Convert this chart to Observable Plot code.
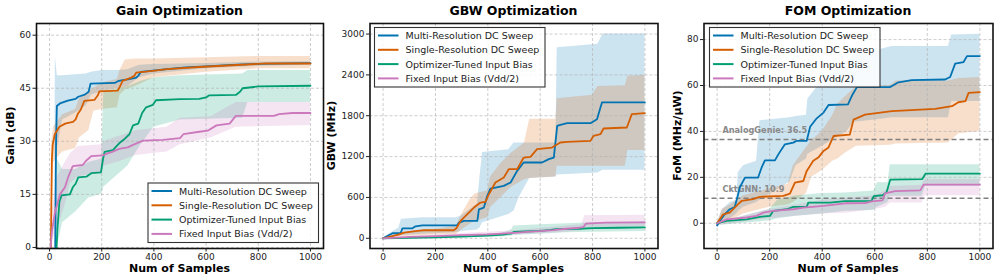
<!DOCTYPE html>
<html><head><meta charset="utf-8">
<script src="https://cdn.jsdelivr.net/npm/d3@7"></script>
<script src="https://cdn.jsdelivr.net/npm/@observablehq/plot@0.6"></script>
<style>
body{margin:0;background:#fff;}
#wrap{position:relative;width:997px;height:280px;font-family:"DejaVu Sans",sans-serif;overflow:hidden;}
#wrap svg{position:absolute;top:0;}
</style></head><body><div id="wrap"></div>
<script>
// ---------- shared categories / labels ----------
const seriesNames = ["Multi-Resolution DC Sweep","Single-Resolution DC Sweep","Optimizer-Tuned Input Bias","Fixed Input Bias (Vdd/2)"];
const seriesColors = ["#0173B2","#D55E00","#029E73","#CC78BC"];
const panelTitles = ["Gain Optimization","GBW Optimization","FOM Optimization"];
const yLabels = ["Gain (dB)","GBW (MHz)","FoM (MHz/\u03bcW)"];
const xLabel = "Num of Samples";
const xTicks = [0,200,400,600,800,1000];
const gainTicks = [0,15,30,45,60];
const gbwTicks = [0,600,1200,1800,2400,3000];
const fomTicks = [0,20,40,60,80];
const baselineNames = ["AnalogGenie","CktGNN"];
const baselineValues = [36.5,10.9];

// ---------- Gain panel: lines [x, y] ----------
const gainMulti = [[22,0],[25,30],[28,40],[40,40.7],[70,41.5],[100,42],[110,42.6],[135,43.2],[150,44],[157,46.3],[250,46.5],[262,47],[280,47.3],[300,47.5],[330,47.9],[340,48.5],[350,49.6],[396,50],[450,50.4],[523,50.9],[600,51.2],[700,51.6],[800,51.9],[1000,52.1]];
const gainSingle = [[5,0],[9,25],[12,29],[20,32],[38,34.1],[60,35],[76,35.3],[90,35.5],[100,36.2],[108,37.7],[120,39],[133,41.4],[172,41.7],[185,43],[191,44.1],[261,44.3],[270,45.5],[280,47.1],[313,48],[325,48.5],[332,49.4],[396,49.9],[450,50.4],[574,51],[700,51.5],[829,52],[1000,52]];
const gainOpt = [[27,0],[30,5],[38,13],[46,14.7],[78,15],[89,17],[100,18],[110,19.8],[141,20],[160,21],[197,21.2],[205,25],[211,27],[243,27.5],[255,28.5],[268,29.5],[285,30.5],[306,32],[320,34.5],[340,35],[355,38],[370,39.6],[396,40.3],[408,41.6],[500,41.9],[574,42],[600,42.4],[612,43],[714,43.1],[730,44],[740,45],[800,45.5],[1000,45.7]];
const gainFixed = [[4,0],[10,5],[21,10],[40,15],[59,17],[72,20],[89,23],[127,23.3],[140,24.5],[160,25.8],[204,26],[220,26.5],[240,27],[265,27.8],[276,28],[300,28.3],[320,29],[358,30.2],[434,30.4],[500,30.9],[513,32],[574,32.7],[606,33],[640,34.5],[690,35],[714,37.2],[860,37.2],[880,37.7],[930,38],[1000,38]];
// ---------- Gain panel: bands [x, lower, upper] ----------
const gainMultiBand = [[20,0,0],[22,0,54],[25,20,52],[30,28,48.5],[50,36,48.5],[100,38,48.8],[140,40,49],[160,43,49.5],[200,44,50],[260,45,50],[300,45.5,50.2],[345,48,51.5],[400,49,51.7],[600,50.5,52],[800,51.2,52.4],[1000,51.5,52.5]];
const gainSingleBand = [[5,0,0],[9,18,30],[15,24,34],[50,27,37.5],[100,28,39],[115,31,42],[150,33,44],[170,38.5,45],[200,39,46.5],[260,39.5,47.5],[270,43,50],[290,44.5,53],[330,45.5,53.3],[400,48,53.3],[600,49.5,53.6],[800,50.5,54],[1000,50.5,54]];
const gainOptBand = [[27,0,0],[30,0,25],[50,7,22],[100,10,22],[150,14,24],[200,15,25],[208,17,44],[300,23,45.5],[350,29,47],[400,34,48],[500,36,48.5],[740,36.5,49],[760,41,50],[1000,41,50]];
const gainFixedBand = [[4,0,0],[10,2,10],[30,5,20],[60,12,24],[80,18,26.5],[110,20,28.5],[200,21,29],[210,23,30],[270,24.3,31.5],[330,26,33],[450,27,34],[500,29,36.5],[620,31,37],[715,34,41],[1000,34.5,41]];

// ---------- GBW panel: lines ----------
const gbwMulti = [[0,0],[29,59],[36,74],[67,74],[74,147],[112,147],[124,176],[150,191],[283,191],[290,230],[309,255],[360,255],[366,426],[385,451],[398,623],[410,730],[429,745],[461,770],[487,819],[512,990],[537,1113],[607,1113],[633,1162],[652,1186],[665,1652],[677,1667],[703,1691],[792,1691],[817,1750],[836,1995],[1000,1995]];
const gbwSingle = [[0,0],[55,49],[80,83],[131,108],[156,118],[270,118],[280,147],[296,255],[321,353],[347,451],[372,525],[391,534],[404,647],[429,819],[461,892],[480,1015],[512,1015],[537,1186],[563,1196],[588,1309],[645,1333],[677,1407],[703,1417],[792,1431],[804,1505],[830,1529],[842,1613],[931,1627],[950,1824],[1000,1838]];
const gbwOpt = [[0,0],[100,5],[200,15],[300,25],[400,40],[460,55],[490,70],[500,95],[540,100],[600,110],[640,125],[660,135],[750,140],[800,148],[900,155],[1000,160]];
const gbwFixed = [[0,0],[100,20],[200,32],[300,45],[400,58],[500,80],[550,95],[600,105],[650,120],[700,140],[750,155],[765,165],[775,215],[850,230],[1000,235]];
// ---------- GBW panel: bands ----------
const gbwMultiBand = [[0,0,0],[30,10,80],[60,30,150],[70,40,280],[150,60,300],[280,80,300],[300,100,330],[360,120,500],[370,150,900],[380,230,1260],[480,350,1300],[500,400,1400],[520,600,1400],[560,880,1400],[660,900,1400],[665,930,2800],[820,960,2850],[840,1000,3000],[1000,1000,3000]];
const gbwSingleBand = [[0,0,0],[100,30,100],[200,50,130],[280,60,180],[300,120,350],[330,200,550],[350,250,650],[400,300,700],[410,450,900],[450,600,1100],[490,750,1250],[540,860,1400],[560,880,1750],[660,900,1750],[665,1060,2050],[800,1060,2100],[820,1060,2230],[925,1060,2240],[935,1290,2380],[1000,1290,2390]];
const gbwOptBand = [[0,0,0],[300,10,40],[450,20,70],[490,30,120],[500,40,180],[600,60,200],[700,80,215],[800,90,230],[1000,100,240]];
const gbwFixedBand = [[0,0,0],[300,25,70],[500,50,110],[700,90,180],[760,110,200],[770,150,330],[1000,170,340]];

// ---------- FOM panel: lines ----------
const fomMulti = [[0,-1],[10,1],[29,3.9],[48,6.1],[67,7.1],[80,12.6],[87,15.8],[106,19.9],[156,19.9],[169,24.2],[182,27.4],[220,27.4],[233,30],[258,34.4],[290,35.1],[303,35.9],[341,35.9],[354,42],[379,45.7],[405,48.2],[424,51.5],[498,51.8],[515,56],[532,59.3],[659,59.3],[690,61.4],[741,62.3],[868,62.6],[887,63.7],[906,69.5],[938,70.2],[951,72.8],[1000,72.8]];
const fomSingle = [[0,0],[23,3.9],[48,4.6],[61,6.1],[80,8.3],[93,9.7],[137,10.5],[163,11.5],[252,11.9],[277,12.9],[296,17.7],[328,18.4],[341,22.8],[366,27.2],[385,28.6],[405,31.5],[424,33],[443,38],[505,38.6],[519,45.1],[563,47.3],[665,48.8],[830,49.8],[894,51],[918,52.7],[945,53.2],[957,56.8],[1000,57.1]];
const fomOpt = [[0,0],[36,1],[112,1.7],[163,2.8],[201,3.2],[214,5.4],[265,6.1],[290,7.1],[341,7.1],[347,9],[430,9],[487,9.6],[588,9.7],[596,11.8],[630,12.2],[645,13.5],[659,19],[780,19.2],[793,21.6],[1000,21.6]];
const fomFixed = [[0,0],[36,1.7],[112,2.5],[150,3.2],[176,4.6],[214,5.4],[290,6.1],[328,6.8],[405,7.6],[487,8.7],[563,8.8],[589,9.5],[630,10],[639,13],[678,14],[773,14.3],[786,16.8],[1000,16.8]];
// ---------- FOM panel: bands ----------
const fomMultiBand = [[0,-1,0],[20,0,6],[50,2,9],[75,4,10],[80,5,22],[100,7,25],[150,9,27],[163,10,44.6],[277,18,46],[300,25,46.5],[340,28,47],[345,30,54],[392,33,61],[494,40,70],[520,44,74],[600,45,75],[665,46,77],[880,46,77],[893,53,82],[1000,53,82.3]];
const fomSingleBand = [[0,-1,0],[20,0,6],[50,1,8],[100,4,12],[200,7,15],[270,8,17],[290,9,25],[340,13,33],[360,20,36],[400,23,40],[440,27,47],[460,28,52],[487,30.5,55],[530,33.5,59.5],[660,34,60],[680,34.5,62],[880,35,62],[920,39,63],[1000,40,63.5]];
const fomOptBand = [[0,-1,0],[100,0,3],[200,1,6],[230,2,10],[300,3,12],[400,4,13],[487,5.2,13.2],[596,5.5,14],[610,7,17.6],[650,9,17.6],[659,11.8,25.5],[780,11.8,25.5],[793,16.1,25.5],[1000,16.1,25.5]];
const fomFixedBand = [[0,-1,0],[200,2,6],[300,3,8],[400,4,10],[500,4.5,11],[600,6,12],[640,7,14],[660,8.8,16],[780,8.8,16.5],[790,12,19],[1000,12,19]];

// ---------- panel configs (built from the arrays above) ----------
const panels = [
  {lines:[gainMulti,gainSingle,gainOpt,gainFixed], bands:[gainMultiBand,gainSingleBand,gainOptBand,gainFixedBand],
   yDomain:[-0.3,63.3], yTicks:gainTicks, left:0, width:330, mL:36, mR:7, legend:{x:148,y:183}, yLabelX:10},
  {lines:[gbwMulti,gbwSingle,gbwOpt,gbwFixed], bands:[gbwMultiBand,gbwSingleBand,gbwOptBand,gbwFixedBand],
   yDomain:[-150,3155], yTicks:gbwTicks, left:330, width:330, mL:39.5, mR:2.5, legend:{x:374.5,y:27.5}, yLabelX:331},
  {lines:[fomMulti,fomSingle,fomOpt,fomFixed], bands:[fomMultiBand,fomSingleBand,fomOptBand,fomFixedBand],
   yDomain:[-11,87], yTicks:fomTicks, left:660, width:337, mL:43.5, mR:4.5, legend:{x:709.5,y:27.5}, yLabelX:677.5, baselines:true}
];
const MT = 23, MB = 32, H = 280;
const wrap = document.getElementById("wrap");

panels.forEach((p) => {
  const marks = [];
  p.bands.forEach((b, i) => marks.push(Plot.areaY(b, {x: d => d[0], y1: d => d[1], y2: d => d[2], fill: seriesColors[i], fillOpacity: 0.2, clip: true})));
  marks.push(Plot.gridX(xTicks, {stroke: "#b0b0b0", strokeOpacity: 0.8, strokeWidth: 0.8, strokeDasharray: "3,2"}));
  marks.push(Plot.gridY(p.yTicks, {stroke: "#b0b0b0", strokeOpacity: 0.8, strokeWidth: 0.8, strokeDasharray: "3,2"}));
  if (p.baselines) {
    marks.push(Plot.ruleY(baselineValues, {stroke: "#808080", strokeWidth: 1.5, strokeDasharray: "5,3"}));
    marks.push(Plot.text(baselineValues.map((v, i) => ({v, t: baselineNames[i] + ": " + v})),
      {x: 20, y: "v", text: "t", dy: -9, textAnchor: "start", fill: "#8a8a8a", fontWeight: "bold", fontSize: 8.2}));
  }
  p.lines.forEach((l, i) => marks.push(Plot.line(l, {x: d => d[0], y: d => d[1], stroke: seriesColors[i], strokeWidth: 1.8, clip: true})));
  marks.push(Plot.frame({stroke: "#111", strokeWidth: 1.6}));
  const svg = Plot.plot({
    width: p.width, height: H,
    marginLeft: p.mL, marginRight: p.mR, marginTop: MT, marginBottom: MB,
    style: {fontFamily: "DejaVu Sans, sans-serif", fontSize: "9px", color: "#222", background: "transparent", overflow: "visible"},
    x: {domain: [-50, 1050], ticks: xTicks, tickSize: 3.5, tickPadding: 2, tickFormat: d3.format("d"), label: null},
    y: {domain: p.yDomain, ticks: p.yTicks, tickSize: 3.5, tickPadding: 2, tickFormat: d3.format("d"), label: null},
    marks
  });
  svg.style.left = p.left + "px";
  wrap.appendChild(svg);
});

// ---------- overlay: titles, axis labels, legends ----------
const ov = d3.select(wrap).append("svg").attr("width", 997).attr("height", H)
  .style("left", "0px").style("font-family", "DejaVu Sans, sans-serif");
panels.forEach((p, k) => {
  const fl = p.left + p.mL, fr = p.left + p.width - p.mR, cx = (fl + fr) / 2, cy = (MT + (H - MB)) / 2;
  ov.append("text").attr("x", cx).attr("y", 10).attr("text-anchor", "middle").attr("dominant-baseline", "central")
    .attr("font-weight", "bold").attr("font-size", 12.5).attr("fill", "#000").text(panelTitles[k]);
  ov.append("text").attr("x", cx).attr("y", 268).attr("text-anchor", "middle").attr("dominant-baseline", "central")
    .attr("font-weight", "bold").attr("font-size", 11).attr("fill", "#000").text(xLabel);
  ov.append("text").attr("transform", `translate(${p.yLabelX},${cy}) rotate(-90)`).attr("text-anchor", "middle")
    .attr("dominant-baseline", "central").attr("font-weight", "bold").attr("font-size", 11).attr("fill", "#000").text(yLabels[k]);
  const g = ov.append("g").attr("transform", `translate(${p.legend.x},${p.legend.y})`);
  g.append("rect").attr("width", 170.5).attr("height", 59.5).attr("fill", "#fff").attr("fill-opacity", 0.85)
    .attr("stroke", "#333").attr("stroke-width", 1.1);
  seriesNames.forEach((n, i) => {
    const y = 8 + i * 14.3;
    g.append("line").attr("x1", 3.5).attr("x2", 24).attr("y1", y).attr("y2", y).attr("stroke", seriesColors[i]).attr("stroke-width", 2);
    g.append("text").attr("x", 31).attr("y", y).attr("dominant-baseline", "central").attr("font-size", 9.5).attr("fill", "#222").text(n);
  });
});
</script></body></html>
